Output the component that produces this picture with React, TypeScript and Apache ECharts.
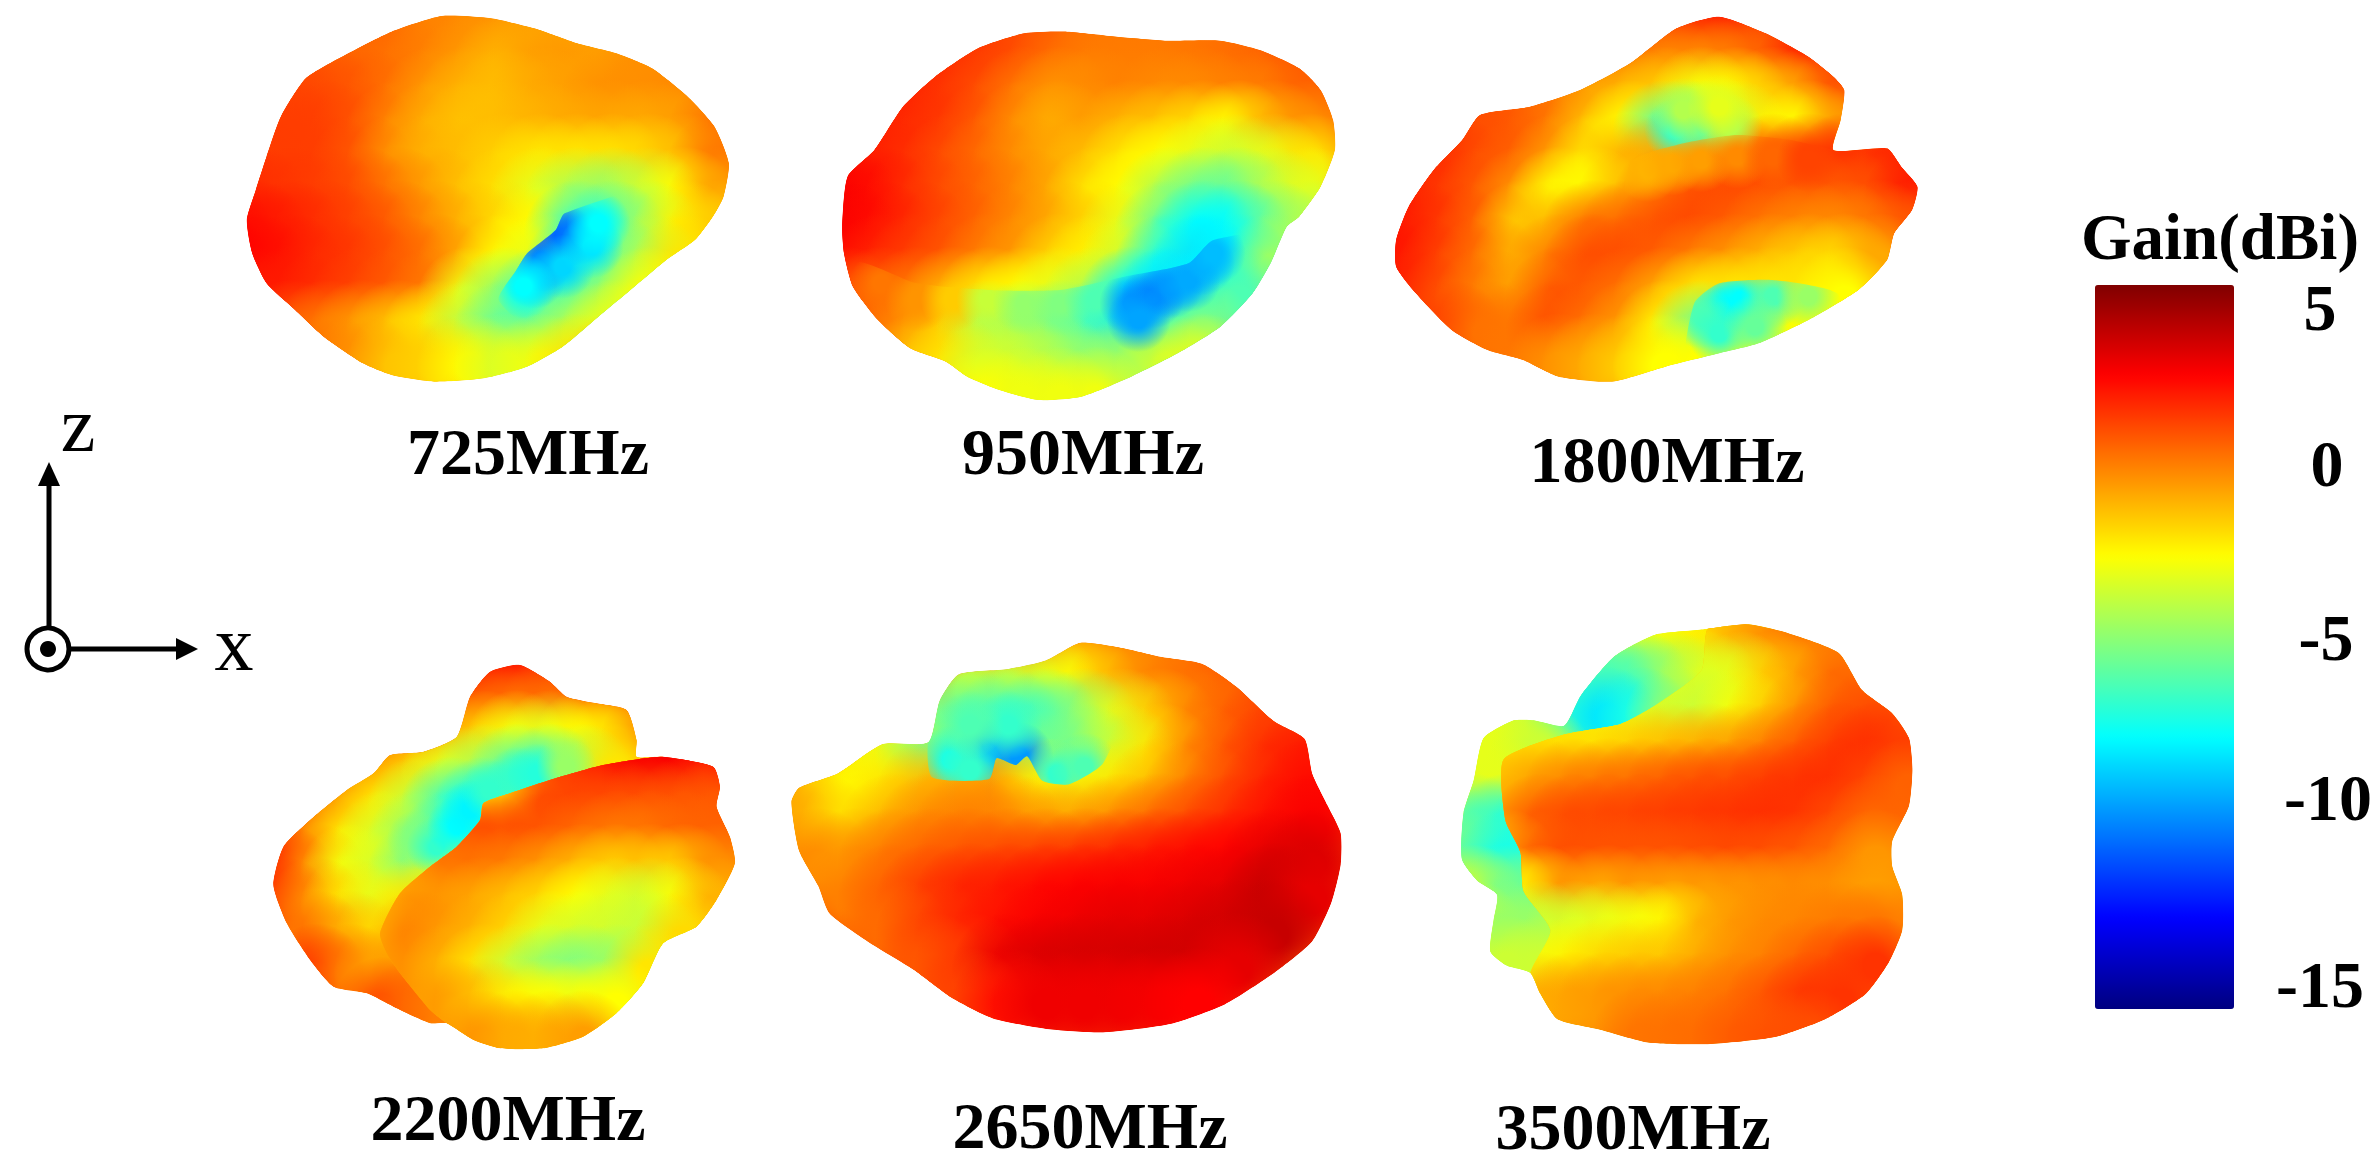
import React, { useEffect, useRef } from "react";
import * as echarts from "echarts";

const _ = null;
type Row = (number | null)[];

// colour scale of the gain bar (dBi)
const gainMin = -15;
const gainMax = 5;
const jet = ["#000080", "#0000ff", "#0080ff", "#00ffff", "#80ff80", "#ffff00", "#ff8000", "#ff0000", "#800000"];
const gainTicks = ["5", "0", "-5", "-10", "-15"];
const gainTickX = [2320, 2327, 2326, 2328, 2320];
const gainTickY = [307, 463, 637, 797, 984];

const freqLabels = ["725MHz", "950MHz", "1800MHz", "2200MHz", "2650MHz", "3500MHz"];
const freqLabelX = [528, 1083, 1667, 508, 1090, 1633];
const freqLabelBase = [469, 469, 477, 1135, 1143, 1144];

// 725 MHz: gain read every 100 view units, rows from y=0, columns from x=0
const outline725 = [[75,660],[100,570],[130,470],[170,350],[240,235],[350,165],[480,95],[620,48],[760,55],[880,85],[1000,130],[1110,160],[1210,205],[1310,290],[1385,380],[1425,490],[1410,590],[1380,650],[1330,720],[1250,780],[1150,870],[1060,950],[960,1040],[860,1100],[740,1135],[600,1145],[480,1125],[400,1090],[290,1010],[210,930],[130,850],[90,760]];
const gain725: Row[] = [
  [],
  [_,_,_,_,.8,.5,0,-.2,-.4,-.6,-.8],
  [_,_,1,.6,.5,.3,0,-.5,-1,-.6,-.5,-.6,-.3],
  [_,_,1.2,1.1,.8,.3,-.5,-1,-1.2,-.8,-.6,-.3,-.3,-.2],
  [_,1.3,1.3,1.3,.9,-.1,-.9,-1.3,-1.2,-1,-.8,-.7,-.8,-.6,.2],
  [1.4,1.4,1.3,1.3,.8,-.4,-1,-1.2,-1.6,-2,-2,-2,-1.8,-1.2,.2],
  [1.7,1.7,1.5,1.3,1,.2,-.6,-1.3,-1.9,-3,-4,-4.5,-3.5,-2.5,-.6],
  [2.3,2.3,2,1.6,1.2,.7,-.2,-1,-1.8,-2.5,-6.3,-6.3,-4.5,-2.3,-1.5],
  [2.5,2.5,2.2,1.7,1.4,.9,.3,-.8,-2.5,-3,-6.5,-6,-4,-2],
  [_,2,2,1.6,1.2,.7,.1,-2.8,-4.5,-6,-6.5,-4.5,-2.5],
  [_,_,.8,.2,-.5,-1.3,-2.2,-3.8,-5.5,-5.8,-4,-2.8],
  [_,_,_,.2,-.4,-1.3,-1.6,-2.4,-3.2,-2.8,-2,-1.5],
  [],
];
const coldClip725 = [[830,810],[860,760],[940,690],[965,640],[1250,560],[1300,800],[900,1000],[780,900]];
const coldSpots725 = [[900,780,-10.5],[960,710,-10.8],[1000,700,-10],[880,830,-9],[960,800,-8.3],[1040,740,-8],[850,860,-7.5],[1060,670,-7.5]];

// 950 MHz
const outline950 = [[90,680],[105,530],[180,450],[260,320],[350,230],[470,145],[600,100],[720,95],[860,110],[1000,122],[1150,122],[1260,150],[1370,205],[1430,270],[1465,360],[1470,450],[1430,560],[1370,650],[1335,680],[1290,790],[1240,880],[1150,980],[1030,1060],[900,1130],[760,1190],[640,1200],[530,1170],[440,1130],[380,1085],[280,1045],[190,960],[120,860],[95,760]];
const gain950: Row[] = [
  [],
  [_,_,_,_,_,1.4,1,.7,.3,.2,.2,.3],
  [_,_,_,1.8,1.6,1.4,1,.4,.1,.1,.1,.2,.4,.6,1],
  [_,_,1.9,1.8,1.5,1,.2,-.4,-.2,0,-.2,-.2,0,.1,.6],
  [_,2,1.9,1.7,1.4,.7,-.3,-.9,-.5,-1,-1.3,-1.8,-2.5,-1,-.3],
  [2.3,2.3,1.9,1.6,1,.4,-.3,-.8,-1.2,-2,-2.5,-3,-3.5,-3,-2],
  [2.6,2.6,2.3,1.6,1,.5,-.1,-.8,-2,-2.5,-4,-5.3,-5.5,-4,-3],
  [2.6,2.6,2.3,1.7,1.1,.5,-.2,-.8,-1.7,-3,-5.5,-7.5,-7.5,-5.5,-4],
  [2.4,2.4,1.8,1.3,.8,0,-.5,-1.7,-2.3,-3.5,-7,-8,-7.5,-4.5],
  [_,.8,.7,.2,-1,-2,-2.5,-3,-4,-7.5,-8,-7.5,-6],
  [_,_,.4,-.3,-1.5,-4,-4.5,-5.2,-6.5,-8,-7,-5],
  [_,_,_,-1.3,-2,-3.3,-3.5,-4,-4.7,-4.5,-3.5,-3],
  [_,_,_,_,_,-2.5,-2.8,-2.8,-2.8],
];
const lowerClip950 = [[120,790],[300,850],[500,870],[700,870],[880,830],[1060,790],[1130,720],[1400,700],[1400,1300],[100,1300]];
const lowerSpots950 = [[200,850,.2],[300,900,-.4],[400,900,-1.5],[500,900,-3.6],[600,910,-4.6],[700,910,-5],[800,900,-6],[900,910,-9.5],[960,890,-10],[1010,860,-9.6],[1060,840,-9.2],[1100,790,-9.2],[1130,760,-8.8],[920,960,-9.3]];

// 1800 MHz
const outline1800 = [[45,720],[80,620],[150,510],[230,420],[280,345],[420,320],[560,270],[700,190],[830,85],[950,50],[1080,100],[1200,170],[1270,230],[1300,270],[1290,360],[1270,450],[1420,445],[1460,500],[1505,560],[1490,630],[1440,700],[1420,780],[1340,870],[1200,960],[1060,1030],[950,1060],[800,1100],[650,1145],[500,1130],[400,1080],[300,1050],[200,990],[100,880],[45,800]];
const gain1800: Row[] = [
  [_,_,_,_,_,_,_,_,_,2.4,2.4],
  [_,_,_,_,_,_,_,_,1,1.8,1.8,1.5,1.8],
  [_,_,_,_,_,_,_,.4,0,-.2,0,.6,1.8,2],
  [_,_,1.2,1.2,.5,0,-.4,-1,-1.5,-2.7,-2.5,-1.6,-.6,1],
  [_,1.4,1.4,1,.8,.2,-1.2,-2.5,-5.5,-4.8,-3.5,-2.2,-2.5,-.5],
  [2,2,1.7,1,.6,-.6,-2,-1,-.8,-.6,0,.7,1.4,1.6,1.6,2],
  [2,1.8,1.4,.7,-.4,-2.5,-2.4,-1.2,0,.8,1.1,1,.8,.8,1,2],
  [2.3,2,1.4,.5,-1.5,-1.2,.2,.4,.9,1.1,.7,.2,-.1,-.2,.2,.8],
  [2.3,2,1.2,.3,-1,0,1,1,.7,.1,-.4,-1,-1.5,-1.8,-.8],
  [_,1.8,.9,0,-.7,.7,.8,.3,-.8,-2,-2,-2,-2,-2.5],
  [_,_,1.2,.3,.2,1,.3,-.5,-2.3,-5,-6,-3.5,-2.5],
  [_,_,_,_,.2,-.3,-.8,-1.5,-2.5,-2.5,-2.5],
];
const wedgeClip1800 = [[700,490],[850,430],[1000,405],[1150,420],[1280,450],[1430,445],[1500,560],[1300,800],[700,800]];
const wedgeSpots1800 = [[750,510,-1],[820,490,-.8],[900,480,-.6],[1000,470,-.2],[1100,470,.5],[1200,480,1.2]];
const backSpots1800 = [[830,390,-6.5],[900,380,-5.5],[980,380,-4],[850,330,-4],[950,320,-3]];
const coldClip1800 = [[860,1100],[880,910],[950,850],[1100,840],[1280,880],[1300,1000],[1100,1100]];
const coldSpots1800 = [[960,920,-7.6],[1010,900,-7.5],[1100,890,-6],[1200,890,-4.5],[900,950,-6],[950,1000,-6.5],[1050,980,-5.5]];

// 2200 MHz: back lobe, then the front lobe laid over it
const outline2200 = [[70,735],[100,620],[180,540],[290,450],[370,400],[420,345],[520,335],[620,290],[660,170],[720,95],[810,75],[900,125],[950,170],[1040,190],[1130,210],[1160,300],[1160,350],[1240,350],[1390,380],[1410,440],[1400,500],[1440,590],[1455,670],[1400,780],[1340,860],[1240,910],[1180,1030],[1100,1120],[1000,1190],[880,1225],[750,1225],[670,1200],[590,1150],[540,1150],[430,1100],[350,1060],[250,1040],[180,960],[110,850]];
const gain2200: Row[] = [
  [],
  [_,_,_,_,_,_,_,2,2.5,2,1.5],
  [_,_,_,_,_,_,_,.8,.4,.4,.4,.7,.7],
  [_,_,_,_,_,1,-.1,-1.5,-2.7,-3,-2.5,-2,-.5],
  [_,_,_,_,-.1,-1.5,-3,-4,-5.5,-6,-4,-2],
  [_,_,.2,-.5,-2,-3.5,-6,-7,-6],
  [_,1.2,-.2,-2,-3.2,-4.5,-6.5,-6],
  [2,1.8,-.3,-2.7,-3.3,-5,-3],
  [_,1.2,-.3,-2,-3,-2],
  [_,_,.3,-.9,-1.8,-1],
  [_,_,1.5,.2,-.7,-.5,-.2],
  [_,_,_,_,1,.5,0],
];
const streakSpots2200 = [[500,600,-5],[560,620,-6.5],[620,560,-7.5],[660,510,-7.7],[720,450,-6.5],[800,410,-6.5],[860,400,-6.8],[950,380,-4.5]];
const frontClip2200 = [[390,880],[450,760],[540,680],[620,620],[690,540],[700,490],[780,460],[900,420],[1060,375],[1240,350],[1390,380],[1410,440],[1400,500],[1440,590],[1455,670],[1400,780],[1340,860],[1240,910],[1180,1030],[1100,1120],[1000,1190],[880,1225],[750,1225],[670,1200],[590,1150],[540,1110],[450,1000],[410,940]];
const front2200: Row[] = [
  [],
  [],
  [],
  [_,_,_,_,_,_,_,_,-.5,1,1.5,2.2,2.6,2.6,2.4],
  [_,_,_,_,_,_,_,_,-.5,1,1.5,2.2,2.6,2.6,2],
  [_,_,_,_,_,_,_,-1.8,-1.5,1,1.2,1.1,1,.9,.8],
  [_,_,_,_,_,_,.6,1,1,.9,.5,.2,.2,.5,.6],
  [_,_,_,_,_,-.9,.3,.3,.1,-.4,-1,-1.5,-1.3,-1.5,-.3],
  [_,_,_,_,-1,-.5,-.4,-.7,-1.2,-1.7,-2.5,-3,-3.4,-2.6,-1],
  [_,_,_,_,-1,0,-.5,-1,-1.7,-3,-3.3,-3.4,-3.6,-1.8],
  [_,_,_,_,_,-.3,-1,-2,-3.5,-4.5,-5,-4.5,-2],
  [_,_,_,_,_,_,-.5,-1.2,-2.2,-2.5,-2.7,-2.5],
  [_,_,_,_,_,_,_,-.4,-.8,-.9,-.6],
];

// 2650 MHz
const outline2650 = [[30,520],[50,480],[150,440],[270,355],[390,350],[420,230],[470,155],[600,140],[700,115],[790,65],[900,80],[1000,105],[1110,125],[1200,190],[1300,290],[1380,340],[1400,440],[1440,530],[1475,610],[1475,700],[1450,810],[1400,920],[1300,1010],[1170,1100],[1030,1155],[850,1180],[700,1170],[560,1140],[450,1080],[350,1000],[230,920],[130,840],[100,760],[50,660]];
const gain2650: Row[] = [
  [],
  [_,_,_,_,_,_,_,_,-.6,0,.2],
  [_,_,_,_,_,-3.5,-3.7,-3.2,-2.5,-1,0,.3,.6],
  [_,_,_,-2.5,-4.8,-5.5,-6,-6.3,-5,-3,-1.5,-.1,.6,1.2],
  [_,-1,-2,-3,-5,-5,-5,-5.5,-5,-3.5,-2,-.2,.8,1.6,2],
  [-.7,-1.3,-2.5,-2,-1.2,-.8,-.6,-2.3,-2.7,-2,-1.2,0,1,1.8,2.3],
  [-.5,-1,-2,-1,-.3,0,-.1,-.6,-.8,-.3,.4,1,1.6,2.2,2.6],
  [_,-.2,-.5,.1,.5,.8,1,1.2,1.4,1.7,2,2.3,2.5,3,3.2],
  [_,_,0,.6,1.3,1.8,2,2.3,2.5,2.6,2.6,2.8,3,3.6,3],
  [_,_,_,.4,1.2,1.8,2.2,2.6,2.8,3,3,3.2,3.4,3.6],
  [_,_,_,_,.8,1.4,2.9,3.2,3.3,3.3,3.4,3.4,3],
  [_,_,_,_,_,1.2,2.2,2.8,2.8,2.8,2.7,2.5],
];
const coldClip2650 = [[390,350],[400,450],[550,455],[570,395],[620,415],[650,390],[690,460],[760,470],[850,410],[900,240],[700,115],[470,155]];
const coldSpots2650 = [[550,380,-9],[630,390,-9.5],[450,400,-7],[500,430,-6.5],[730,440,-6.5],[800,420,-6],[600,300,-6.5],[500,300,-6]];

// 3500 MHz: back lobes at the left and top, then the main body
const outline3500 = [[65,700],[70,570],[100,480],[130,360],[220,310],[280,310],[370,325],[420,240],[520,130],[640,70],[780,55],[920,40],[1040,65],[1190,120],[1260,225],[1350,290],[1400,360],[1410,450],[1400,550],[1350,650],[1350,720],[1380,800],[1380,900],[1340,990],[1270,1080],[1150,1150],[1000,1200],[800,1220],[620,1215],[480,1180],[350,1150],[300,1080],[270,1020],[200,1000],[150,960],[160,870],[170,800],[110,760]];
const gain3500: Row[] = [
  [_,_,_,_,_,_,-3,-2.4,-2,-1.5],
  [_,_,_,_,_,-4.5,-3.2,-2.6,-2.2,-2],
  [_,_,_,_,-6,-6,-6,-4.5,-3.2,-3],
  [_,-3,-3.2,-3.7,-6.5,-8,-7,-4.5],
  [-3,-3,-3,-3.5],
  [-3,-3,-3],
  [-5.5,-5.5,-6.5,-6.5],
  [-5.5,-5.5,-7,-7],
  [_,-3,-5,-5.5],
  [_,-3,-4.5,-4.5,-4],
  [_,_,-3.5,-3.5],
];
const bodyClip3500 = [[190,420],[370,350],[540,320],[640,270],[780,170],[800,50],[920,40],[1040,65],[1190,120],[1260,225],[1350,290],[1400,360],[1410,450],[1400,550],[1350,650],[1350,720],[1380,800],[1380,900],[1340,990],[1270,1080],[1150,1150],[1000,1200],[800,1220],[620,1215],[480,1180],[350,1150],[300,1080],[270,1020],[330,900],[250,790],[240,680],[195,590]];
const body3500: Row[] = [
  [],
  [_,_,_,_,_,_,_,_,-2,-1,-.3,.2],
  [_,_,_,_,_,_,_,-3.2,-3.2,-3,-1.5,-.6,.4],
  [_,_,_,_,-2.6,-2.8,-3,-3.3,-3.5,-2.7,-1.5,-.3,.7,1],
  [_,-1.5,-1.8,-1.9,-1.9,-1.9,-1.6,-1.3,-1,-.7,0,.7,1.3,1.6,1.3],
  [_,-1.1,-1.4,-.7,-.2,.1,.3,.6,.9,1,1.3,1.5,1.6,1.2,.6],
  [_,_,-.6,.6,1,1.1,1.2,1.3,1.4,1.5,1.6,1.5,1.1,.5],
  [_,_,-1.2,.5,1,.9,.9,.9,1,1.1,1,.8,.4,-.4],
  [_,_,-2.5,-2,-.3,-.8,-.4,-.6,-.5,-.4,-.3,-.2,-.3,-.6],
  [_,_,-3,-3.5,-3.3,-3,-2.7,-2.4,-1,-.5,-.2,-.1,.1,.2],
  [_,_,-3,-2.8,-2.3,-1.8,-1.5,-1.4,-.8,-.3,0,.5,1,1.5],
  [_,_,_,-1,-.7,-.5,-.3,-.2,0,.3,.8,1.4,1.5],
  [_,_,_,_,_,_,.2,.3,.4,.7,.9,1],
];

const gridToSamples = (rows: Row[]) => {
  const out: number[][] = [];
  rows.forEach((row, j) => row.forEach((v, i) => {
    if (v !== null) out.push([i * 100, j * 100, v]);
  }));
  return out;
};

// where each pattern sits on the page, and the size of its view units
const panelBoxes = [
  { left: 220, top: 0, width: 560, height: 500, viewW: 1568, viewH: 1500 },
  { left: 810, top: 0, width: 560, height: 500, viewW: 1568, viewH: 1500 },
  { left: 1380, top: 0, width: 560, height: 500, viewW: 1568, viewH: 1500 },
  { left: 250, top: 640, width: 520, height: 528, viewW: 1560, viewH: 1584 },
  { left: 780, top: 620, width: 590, height: 548, viewW: 1552, viewH: 1568 },
  { left: 1440, top: 610, width: 520, height: 558, viewW: 1552, viewH: 1568 },
];

const gridRadius = 150;
const spotRadius = 90;

type Lobe = { clip: number[][]; base?: number; samples: number[][]; radius: number };
const panelOutlines = [outline725, outline950, outline1800, outline2200, outline2650, outline3500];
const panelLobes: Lobe[][] = [
  [
    { clip: outline725, base: 0, samples: gridToSamples(gain725), radius: gridRadius },
    { clip: coldClip725, samples: coldSpots725, radius: spotRadius },
  ],
  [
    { clip: outline950, base: 0, samples: gridToSamples(gain950), radius: gridRadius },
    { clip: lowerClip950, samples: lowerSpots950, radius: spotRadius },
  ],
  [
    { clip: outline1800, base: 0, samples: gridToSamples(gain1800), radius: gridRadius },
    { clip: outline1800, samples: backSpots1800, radius: spotRadius },
    { clip: wedgeClip1800, samples: wedgeSpots1800, radius: spotRadius },
    { clip: coldClip1800, samples: coldSpots1800, radius: spotRadius },
  ],
  [
    { clip: outline2200, base: -1, samples: gridToSamples(gain2200), radius: gridRadius },
    { clip: outline2200, samples: streakSpots2200, radius: spotRadius },
    { clip: frontClip2200, base: -1, samples: gridToSamples(front2200), radius: gridRadius },
  ],
  [
    { clip: outline2650, base: 1, samples: gridToSamples(gain2650), radius: gridRadius },
    { clip: coldClip2650, samples: coldSpots2650, radius: spotRadius },
  ],
  [
    { clip: outline3500, base: -4, samples: gridToSamples(gain3500), radius: gridRadius },
    { clip: bodyClip3500, base: 0, samples: gridToSamples(body3500), radius: gridRadius },
  ],
];

const gainColor = (g: number) =>
  echarts.color.lerp((g - gainMin) / (gainMax - gainMin), jet) as string;

const makeRenderItem = (outline: number[][], lobes: Lobe[]) => (_params: any, api: any) => {
  const lobe = lobes[api.value(0)];
  const outer = outline.map((p) => api.coord(p));
  const points = lobe.clip.map((p) => api.coord(p));
  const r = api.size([lobe.radius, lobe.radius])[0];
  const children: any[] = [];
  if (lobe.base !== undefined) {
    children.push({
      type: "polygon",
      shape: { points, smooth: 0.2 },
      style: { fill: gainColor(lobe.base) },
    });
  }
  lobe.samples.forEach(([x, y, g]) => {
    const c = api.coord([x, y]);
    const col = gainColor(g);
    children.push({
      type: "circle",
      shape: { cx: c[0], cy: c[1], r },
      style: {
        fill: new echarts.graphic.RadialGradient(0.5, 0.5, 0.5, [
          { offset: 0, color: col },
          { offset: 0.25, color: col },
          { offset: 1, color: echarts.color.modifyAlpha(col, 0) },
        ]),
      },
    });
  });
  return {
    type: "group",
    clipPath: { type: "polygon", shape: { points: outer, smooth: 0.2 } },
    children: [
      {
        type: "group",
        clipPath: { type: "polygon", shape: { points, smooth: 0.2 } },
        children,
      },
    ],
  };
};

const serifBold = { fontFamily: "Liberation Serif", fontWeight: "bold", fontSize: 66, fill: "#000", textAlign: "center", textVerticalAlign: "middle" };

const App: React.FC = () => {
  const chartRef = useRef<HTMLDivElement | null>(null);
  useEffect(() => {
    document.body.style.margin = "0";
    if (chartRef.current) {
      const chart = echarts.init(chartRef.current, undefined, { renderer: "svg" });
      chart.setOption({
        animation: false,
        backgroundColor: "#fff",
        grid: panelBoxes.map((b) => ({ left: b.left, top: b.top, width: b.width, height: b.height, show: false })),
        xAxis: panelBoxes.map((b, i) => ({ type: "value", gridIndex: i, min: 0, max: b.viewW, show: false })),
        yAxis: panelBoxes.map((b, i) => ({ type: "value", gridIndex: i, min: 0, max: b.viewH, inverse: true, show: false })),
        visualMap: {
          type: "continuous",
          min: gainMin,
          max: gainMax,
          seriesIndex: [],
          left: 2095,
          top: 285,
          padding: 0,
          itemWidth: 139,
          itemHeight: 724,
          calculable: false,
          hoverLink: false,
          inRange: { color: jet },
        },
        series: panelLobes.map((lobes, i) => ({
          type: "custom",
          name: freqLabels[i],
          coordinateSystem: "cartesian2d",
          xAxisIndex: i,
          yAxisIndex: i,
          silent: true,
          clip: false,
          data: lobes.map((_l, k) => [k, 0]),
          renderItem: makeRenderItem(panelOutlines[i], lobes),
        })),
        graphic: [
          ...freqLabels.map((t, i) => ({
            type: "text", x: freqLabelX[i], y: freqLabelBase[i] - 18, z: 10,
            style: { ...serifBold, text: t },
          })),
          { type: "text", x: 2220, y: 237, z: 10, style: { ...serifBold, fontSize: 65, text: "Gain(dBi)" } },
          ...gainTicks.map((t, i) => ({
            type: "text", x: gainTickX[i], y: gainTickY[i], z: 10,
            style: { ...serifBold, text: t },
          })),
          // z-x axes icon
          { type: "line", shape: { x1: 49, y1: 627, x2: 49, y2: 480 }, style: { stroke: "#000", lineWidth: 5 } },
          { type: "polygon", shape: { points: [[49, 462], [38, 486], [60, 486]] }, style: { fill: "#000" } },
          { type: "line", shape: { x1: 70, y1: 649, x2: 180, y2: 649 }, style: { stroke: "#000", lineWidth: 5 } },
          { type: "polygon", shape: { points: [[198, 649], [176, 638], [176, 660]] }, style: { fill: "#000" } },
          { type: "circle", shape: { cx: 48, cy: 649, r: 21 }, style: { fill: "#fff", stroke: "#000", lineWidth: 5 } },
          { type: "circle", shape: { cx: 48, cy: 649, r: 8 }, style: { fill: "#000" } },
          { type: "text", x: 78, y: 424, style: { text: "z", fontFamily: "Liberation Serif", fontSize: 78, fill: "#000", textAlign: "center", textVerticalAlign: "middle" } },
          { type: "text", x: 234, y: 643, style: { text: "x", fontFamily: "Liberation Serif", fontSize: 78, fill: "#000", textAlign: "center", textVerticalAlign: "middle" } },
        ],
      });
      return () => {
        chart.dispose();
      };
    }
  }, []);

  return <div ref={chartRef} style={{ width: "2379px", height: "1168px" }} />;
};

export default App;
